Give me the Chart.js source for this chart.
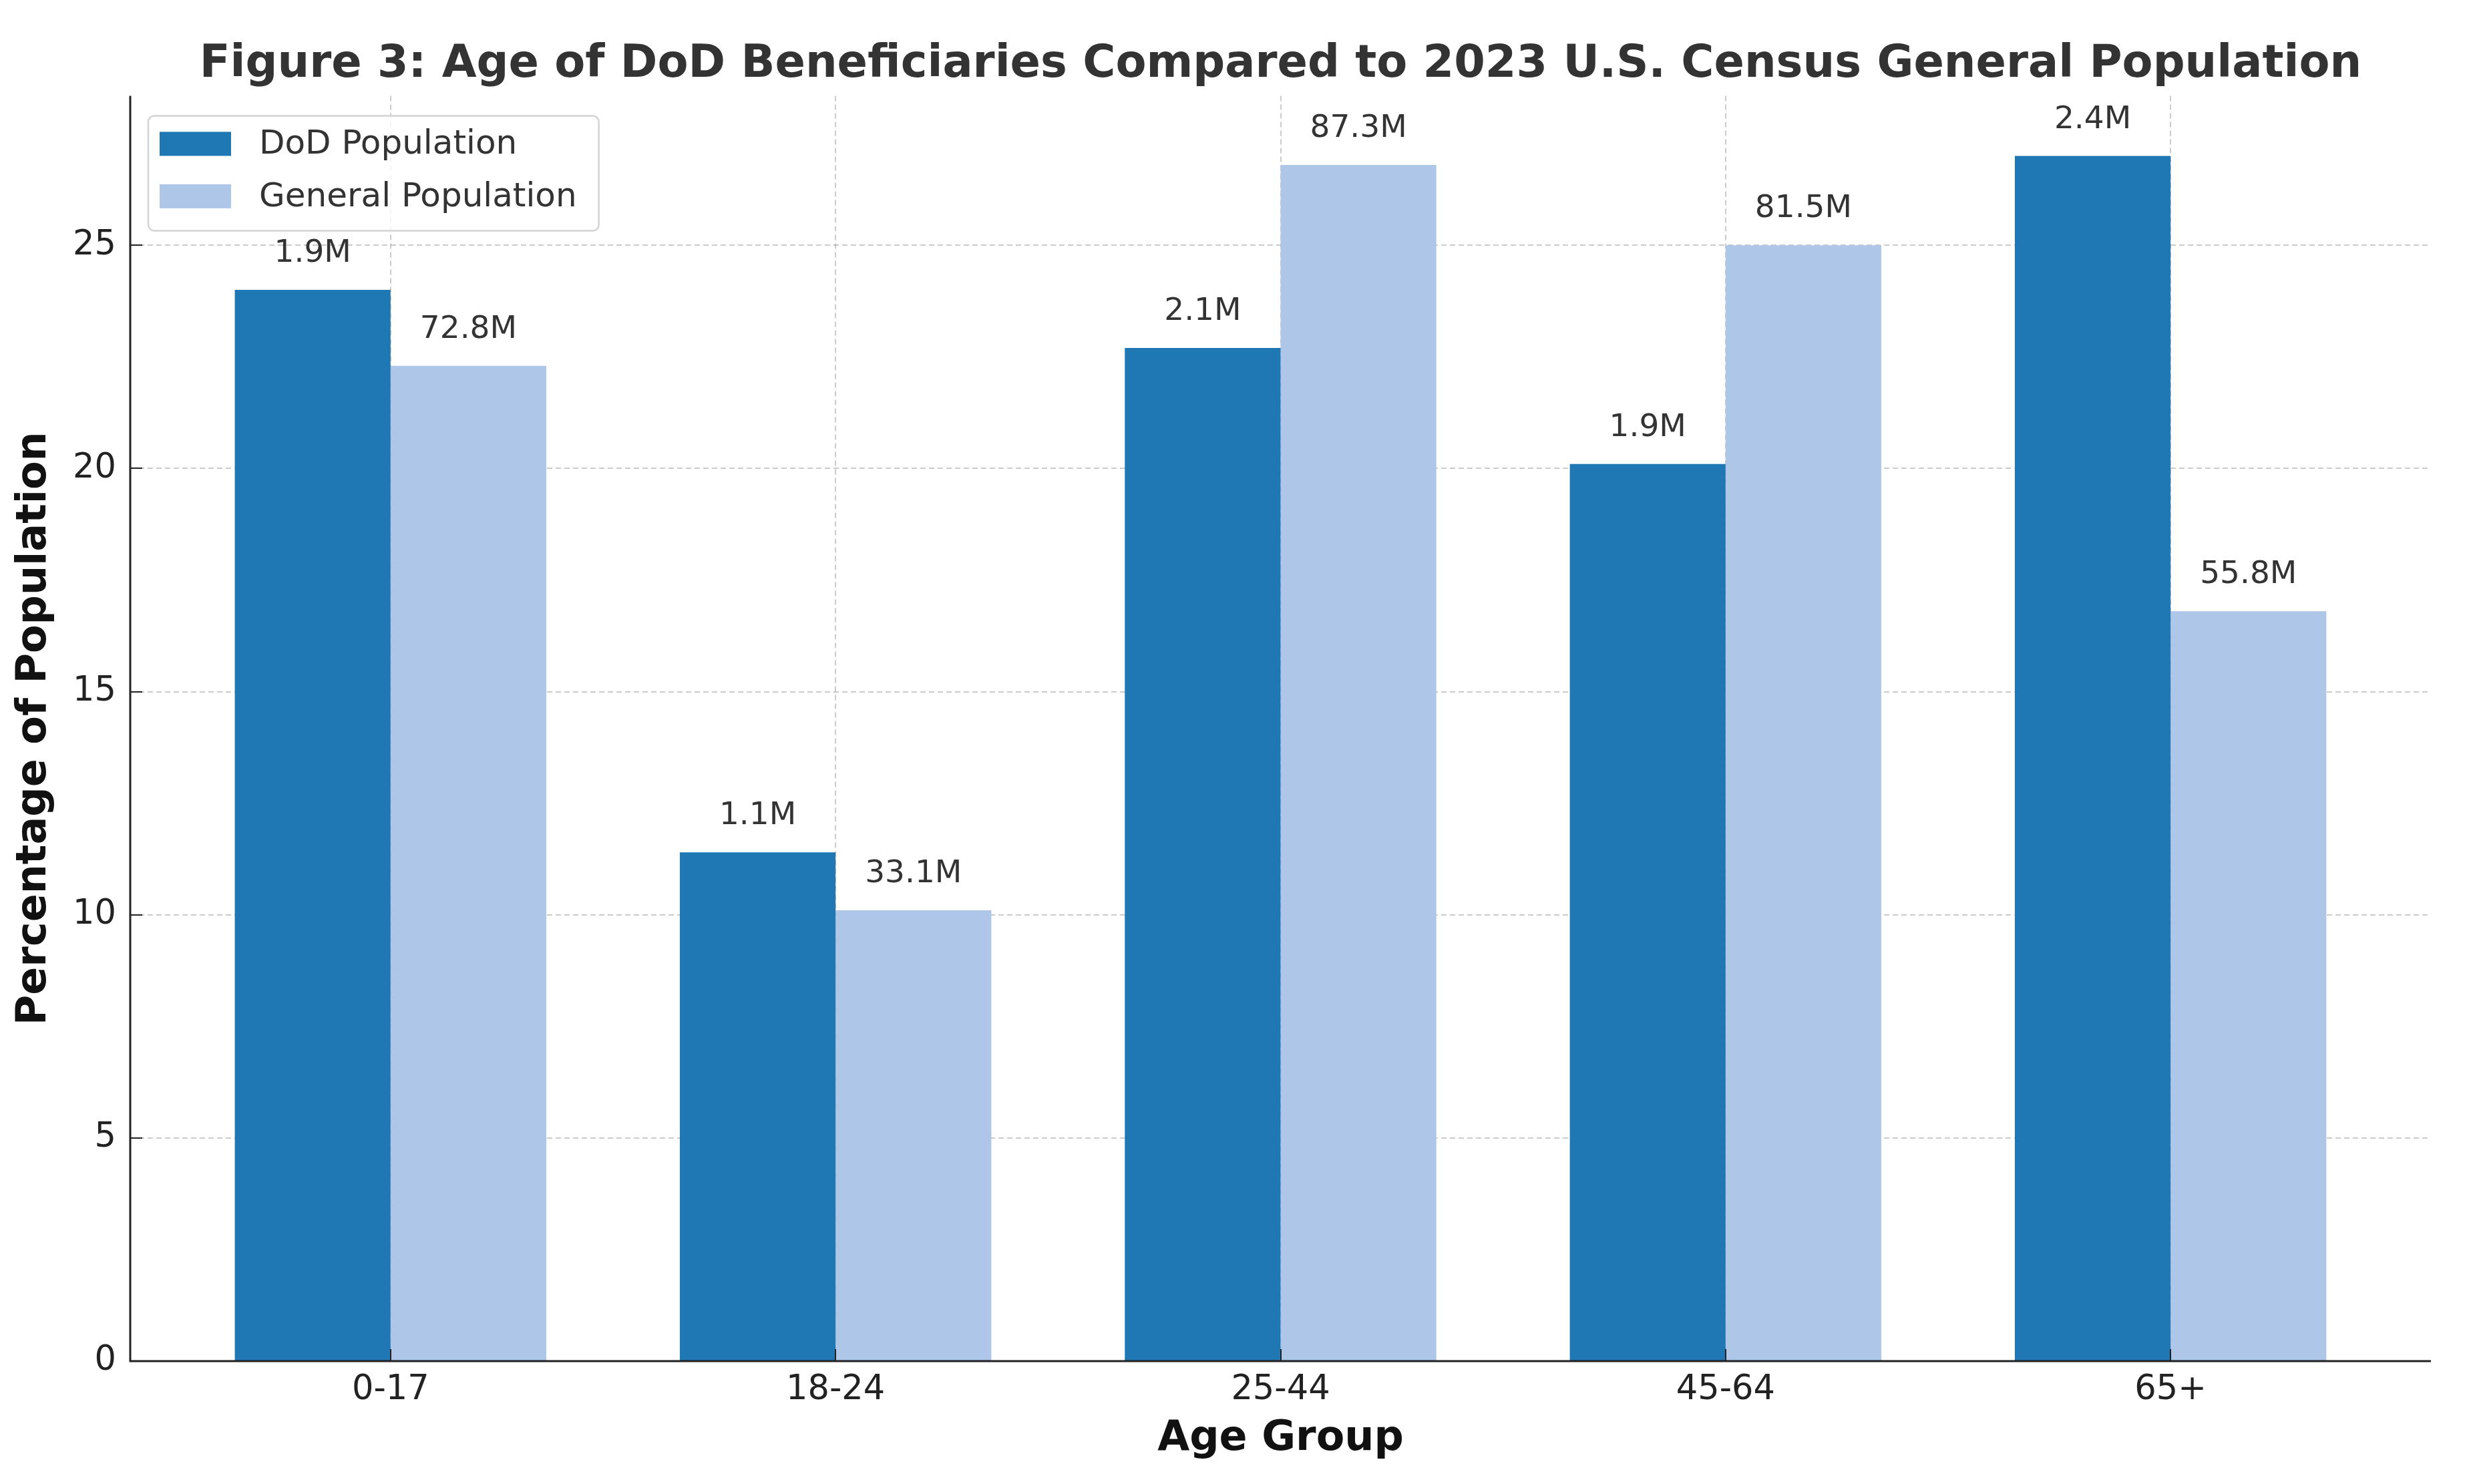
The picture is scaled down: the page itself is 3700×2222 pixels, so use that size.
<!DOCTYPE html>
<html>
<head>
<meta charset="utf-8">
<title>Age of DoD Beneficiaries</title>
<script src="https://cdn.jsdelivr.net/npm/chart.js@4.4.1/dist/chart.umd.min.js"></script>
<style>
  html, body { margin: 0; padding: 0; background: #fff; }
  canvas { display: block; }
</style>
</head>
<body>
<canvas id="age-chart" width="3700" height="2222"></canvas>
<script>
const categories = ['0-17', '18-24', '25-44', '45-64', '65+'];
const dodPct = [24.0, 11.4, 22.7, 20.1, 27.0];
const genPct = [22.3, 10.1, 26.8, 25.0, 16.8];
// population counts in millions, printed above the bars
const dodMillions = [1.9, 1.1, 2.1, 1.9, 2.4];
const genMillions = [72.8, 33.1, 87.3, 81.5, 55.8];
const yTicks = [0, 5, 10, 15, 20, 25];

const FONT = "'DejaVu Sans', sans-serif";
const DOD_COLOR = '#1f77b4';
const GEN_COLOR = '#aec7e8';
const GRID_COLOR = 'rgba(140,140,140,0.45)';

const yMax = Math.max(...dodPct, ...genPct) * 1.05;

// centre the title over the plot area, not the whole canvas
const titleOverPlot = {
  id: 'titleOverPlot',
  afterLayout(chart) {
    if (chart.titleBlock) {
      chart.titleBlock.left = chart.chartArea.left;
      chart.titleBlock.right = chart.chartArea.right;
    }
  }
};

// labels like "1.9M" above each bar
const barLabels = {
  id: 'barLabels',
  afterDraw(chart) {
    const ctx = chart.ctx;
    const counts = [dodMillions, genMillions];
    ctx.save();
    ctx.font = `47px ${FONT}`;
    ctx.fillStyle = '#333';
    ctx.textAlign = 'center';
    ctx.textBaseline = 'alphabetic';
    chart.data.datasets.forEach((ds, i) => {
      chart.getDatasetMeta(i).data.forEach((bar, j) => {
        ctx.fillText(counts[i][j].toFixed(1) + 'M', bar.x, bar.y - 42);
      });
    });
    ctx.restore();
  }
};

// axis lines and short tick marks pointing into the plot
const axesAndTicks = {
  id: 'axesAndTicks',
  afterDraw(chart) {
    const { ctx, chartArea, scales } = chart;
    ctx.save();
    ctx.setLineDash([]);
    ctx.strokeStyle = '#222';
    ctx.lineWidth = 2;
    ctx.beginPath();
    scales.y.ticks.forEach(t => {
      const py = Math.round(scales.y.getPixelForValue(t.value));
      ctx.moveTo(chartArea.left, py);
      ctx.lineTo(chartArea.left + 18, py);
    });
    scales.x.ticks.forEach(t => {
      const px = Math.round(scales.x.getPixelForValue(t.value));
      ctx.moveTo(px, chartArea.bottom);
      ctx.lineTo(px, chartArea.bottom - 18);
    });
    ctx.stroke();
    ctx.lineWidth = 3;
    ctx.beginPath();
    ctx.moveTo(chartArea.left, chartArea.top);
    ctx.lineTo(chartArea.left, chartArea.bottom);
    ctx.lineTo(chartArea.right, chartArea.bottom);
    ctx.stroke();
    ctx.restore();
  }
};

// boxed legend in the upper left of the plot
const boxLegend = {
  id: 'boxLegend',
  afterDraw(chart) {
    const { ctx, chartArea } = chart;
    const x = chartArea.left + 27;
    const y = chartArea.top + 30;
    ctx.save();
    ctx.font = `50px ${FONT}`;
    const textW = Math.max(...chart.data.datasets.map(d => ctx.measureText(d.label).width));
    const w = 17 + 107 + 42 + textW + 33;
    const h = 172;
    ctx.beginPath();
    ctx.roundRect(x, y, w, h, 9);
    ctx.fillStyle = 'rgba(255,255,255,0.8)';
    ctx.fill();
    ctx.strokeStyle = '#d3d3d3';
    ctx.lineWidth = 2.5;
    ctx.stroke();
    ctx.textAlign = 'left';
    ctx.textBaseline = 'middle';
    chart.data.datasets.forEach((ds, i) => {
      const cy = y + 42 + i * 78.5;
      ctx.fillStyle = ds.backgroundColor;
      ctx.fillRect(x + 17, cy - 18, 107, 36);
      ctx.fillStyle = '#333';
      ctx.fillText(ds.label, x + 17 + 107 + 42, cy + 2);
    });
    ctx.restore();
  }
};

const ctx = document.getElementById('age-chart');

new Chart(ctx, {
  type: 'bar',
  data: {
    datasets: [
      {
        label: 'DoD Population',
        data: dodPct.map((v, i) => ({ x: i, y: v })),
        backgroundColor: DOD_COLOR,
        borderWidth: 0
      },
      {
        label: 'General Population',
        data: genPct.map((v, i) => ({ x: i, y: v })),
        backgroundColor: GEN_COLOR,
        borderWidth: 0
      }
    ]
  },
  options: {
    responsive: false,
    animation: false,
    devicePixelRatio: 1,
    layout: { padding: { left: 0, right: 60, top: 0, bottom: 0 } },
    datasets: {
      bar: { categoryPercentage: 0.7, barPercentage: 1.0 }
    },
    plugins: {
      legend: { display: false },
      tooltip: { enabled: false },
      title: {
        display: true,
        text: 'Figure 3: Age of DoD Beneficiaries Compared to 2023 U.S. Census General Population',
        color: '#333',
        font: { family: FONT, size: 67, weight: 'bold' },
        padding: { top: 57, bottom: 6 }
      }
    },
    scales: {
      x: {
        type: 'linear',
        min: -0.585,
        max: categories.length - 1 + 0.585,
        offset: false,
        z: 1,
        afterFit: scale => { scale.height = 184; },
        ticks: {
          stepSize: 1,
          includeBounds: false,
          padding: 13,
          color: '#222',
          font: { family: FONT, size: 51 },
          callback: v => categories[v] ?? ''
        },
        grid: {
          offset: false,
          drawTicks: false,
          color: GRID_COLOR,
          lineWidth: 2
        },
        border: { display: false, dash: [8, 5] },
        title: {
          display: true,
          text: 'Age Group',
          color: '#111',
          font: { family: FONT, size: 62, weight: 'bold' },
          padding: { top: 0, bottom: 30 }
        }
      },
      y: {
        min: 0,
        max: yMax,
        z: 1,
        afterFit: scale => { scale.width = 195; },
        afterBuildTicks: scale => { scale.ticks = yTicks.map(v => ({ value: v })); },
        ticks: {
          includeBounds: false,
          padding: 21,
          color: '#222',
          font: { family: FONT, size: 51 }
        },
        grid: {
          drawTicks: false,
          color: GRID_COLOR,
          lineWidth: 2
        },
        border: { display: false, dash: [8, 5] },
        title: {
          display: true,
          text: 'Percentage of Population',
          color: '#111',
          font: { family: FONT, size: 62, weight: 'bold' },
          padding: { top: 15, bottom: 0 }
        }
      }
    }
  },
  plugins: [titleOverPlot, barLabels, axesAndTicks, boxLegend]
});
</script>
</body>
</html>
